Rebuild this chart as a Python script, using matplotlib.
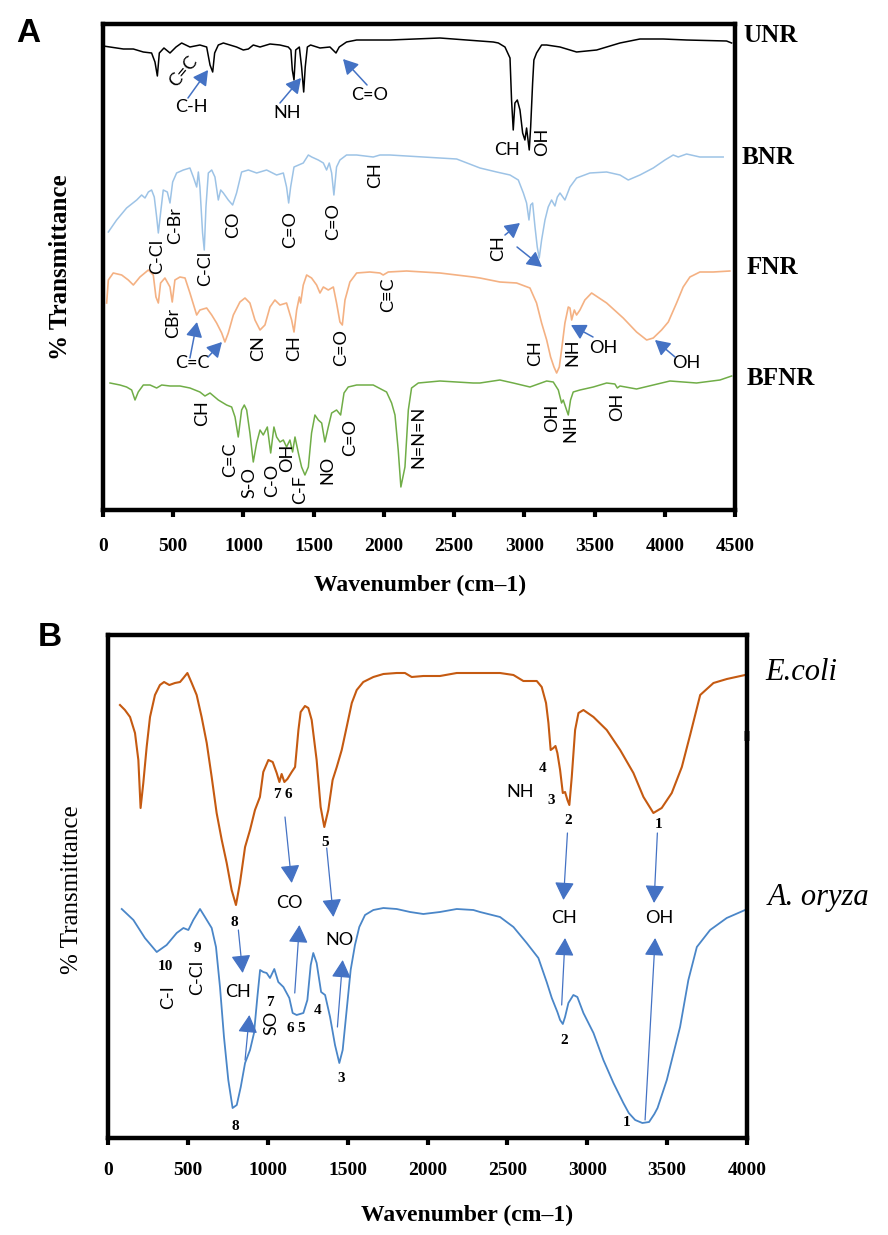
import matplotlib
matplotlib.use('Agg')
import matplotlib.pyplot as plt

# ---------------- Panel A data (wavenumber cm-1, transmittance a.u.) ----------------
unr_wn = [2,145,216,287,346,370,387,401,434,477,520,560,619,690,738,762,781,795,821,857,951,999,1035,1070,1118,
          1189,1260,1319,1338,1348,1360,1372,1398,1414,1429,1440,1455,1478,1545,1616,1659,1682,1734,1806,2043,2399,
          2684,2779,2815,2862,2898,2909,2921,2933,2950,2969,2988,3004,3016,3035,3045,3059,3068,3087,3123,3159,3254,
          3372,3515,3681,3823,3989,4155,4440,4476]
unr_t = [464,461,461,458,457,448,434,457,462,457,463,467,463,465,463,445,438,457,465,467,463,460,461,465,463,
         466,465,463,460,440,430,460,463,443,418,443,463,465,462,463,457,463,468,470,470,472,
         469,468,467,463,452,410,380,407,410,400,377,370,382,360,383,427,450,457,465,465,463,
         458,460,467,471,471,470,469,467]

bnr_wn = [38,97,168,240,275,299,323,346,365,382,394,410,429,458,477,496,524,572,619,643,667,679,690,709,721,733,
          750,774,797,821,838,857,892,923,951,987,1035,1094,1165,1236,1284,1307,1322,1336,1360,1426,1462,1486,1533,
          1569,1592,1611,1628,1644,1663,1687,1734,1806,1924,1972,2043,2280,2518,2684,2803,2898,2957,2993,3016,3033,
          3045,3059,3076,3092,3106,3123,3147,3170,3194,3218,3235,3254,3289,3325,3372,3467,3586,3681,3740,3823,3918,
          4001,4060,4096,4155,4250,4416]
bnr_t = [278,290,302,310,315,312,318,320,313,293,277,297,320,318,307,328,337,340,342,333,323,338,323,277,260,303,
         337,340,333,310,320,317,310,305,317,338,340,337,340,335,337,323,307,323,343,347,355,353,350,
         347,340,347,337,315,343,350,355,355,353,355,355,353,351,342,338,335,330,317,307,290,
         305,307,283,263,252,270,290,303,310,304,313,317,310,323,332,337,338,335,330,335,342,
         350,355,353,356,353,353]

fnr_wn = [26,38,73,133,180,216,263,323,358,377,394,410,441,477,493,512,548,584,619,667,690,738,774,809,845,868,892,
          928,975,1011,1046,1082,1118,1153,1189,1224,1260,1307,1343,1360,1379,1398,1407,1426,1450,1485,1521,1545,
          1569,1604,1640,1663,1687,1704,1723,1758,1806,1900,1972,1995,2031,2162,2399,2636,2684,2826,2945,3040,3087,
          3123,3159,3187,3211,3230,3249,3265,3289,3313,3325,3337,3356,3372,3396,3431,3479,3586,3704,3799,3871,3918,
          3977,4025,4084,4131,4179,4250,4345,4463]
fnr_t = [207,230,237,235,230,225,233,240,235,213,207,227,232,223,208,230,233,232,217,195,200,202,195,187,177,168,177,
         195,208,212,207,190,180,185,203,210,205,207,190,178,200,213,207,225,235,232,225,217,
         223,220,223,207,188,185,210,228,237,238,237,235,238,239,237,233,232,228,227,222,207,
         187,170,153,143,137,143,160,187,203,202,190,200,195,200,210,217,207,192,178,170,172,
         180,188,207,223,233,238,238,239]

bfnr_wn = [50,121,168,204,228,251,287,335,382,418,477,548,619,690,726,762,821,880,916,940,963,987,1006,1023,1046,
           1070,1094,1118,1141,1170,1194,1217,1236,1260,1284,1307,1331,1350,1367,1391,1414,1438,1462,1485,1509,1533,
           1557,1580,1604,1628,1663,1692,1716,1746,1806,1924,2019,2055,2079,2102,2121,2150,2174,2197,2245,2399,2636,
           2684,2826,2921,3040,3159,3206,3242,3265,3277,3296,3313,3329,3348,3396,3491,3586,3645,3662,3681,3799,3918,
           4037,4226,4393,4476]
bfnr_t = [127,125,123,120,110,118,125,125,122,125,124,124,122,118,114,117,110,105,103,93,73,100,105,100,77,
          48,67,80,75,83,57,83,73,68,70,63,70,58,73,57,43,35,43,77,95,90,
          87,68,83,97,100,95,117,123,125,125,118,107,95,60,23,43,100,122,127,129,127,
          127,130,127,123,129,128,120,107,110,102,95,110,118,120,123,127,126,122,124,121,125,
          129,127,130,134]

# ---------------- Panel B data ----------------
ecoli_wn = [75,106,138,169,190,204,221,242,263,294,325,351,384,419,451,472,497,524,555,586,618,649,680,712,743,774,
            801,826,858,889,920,951,972,1004,1031,1056,1073,1087,1104,1123,1150,1171,1192,1206,1233,1254,1275,1306,
            1331,1354,1379,1406,1432,1463,1494,1526,1557,1598,1661,1724,1807,1859,1901,1974,2078,2183,2329,2454,2538,
            2600,2684,2715,2742,2757,2771,2788,2801,2813,2830,2847,2861,2876,2888,2903,2924,2945,2976,3039,3122,3206,
            3289,3352,3414,3466,3529,3592,3644,3707,3790,3874,3988]
ecoli_t = [433,428,421,405,378,330,355,391,421,443,453,456,453,455,456,460,465,455,443,421,395,361,325,298,275,248,
           233,255,291,308,328,341,366,378,376,365,356,364,356,359,366,371,408,426,432,430,418,378,
           331,311,328,358,371,388,411,435,448,456,461,464,465,465,461,462,462,465,465,465,463,
           457,457,451,435,415,388,390,392,385,368,345,346,338,333,361,408,425,428,421,408,388,
           365,341,325,330,345,371,403,443,455,459,463]

aory_wn = [86,159,231,305,367,430,472,503,534,576,607,649,676,701,726,753,780,806,831,858,889,914,935,952,972,993,
           1014,1041,1066,1098,1135,1156,1181,1223,1248,1269,1285,1306,1334,1359,1390,1421,1448,1469,1494,1519,1546,
           1573,1609,1661,1724,1807,1891,1974,2078,2183,2287,2329,2454,2538,2621,2694,2746,2778,2813,2830,2847,2861,
           2882,2913,2938,2976,3039,3101,3164,3226,3260,3300,3345,3387,3420,3440,3498,3581,3633,3686,3769,3873,3988]
aory_t = [229,218,200,186,193,205,210,208,218,229,221,210,191,151,101,58,30,33,51,75,88,105,141,168,166,165,
          160,169,156,151,140,125,123,125,138,173,185,175,146,143,121,93,75,88,128,168,193,
          211,223,228,230,229,226,224,226,229,228,226,221,211,195,180,156,140,126,118,114,121,
          135,143,141,125,105,78,55,35,25,18,15,16,24,30,58,111,158,191,208,220,228]

# ---------------- annotations ----------------
labels_a = [("C=C", 570, 438, 50), ("C-H", 632, 403, 0), ("NH", 1310, 397, 0), ("C=O", 1901, 415, 0),
            ("CH", 2876, 360, 0), ("OH", 3126, 368, 90),
            ("C-Cl", 385, 254, 90), ("C-Br", 513, 284, 90), ("C-Cl", 726, 242, 90), ("CO", 926, 285, 90),
            ("C=O", 1331, 280, 90), ("C=O", 1638, 288, 90), ("CH", 1937, 335, 90), ("CH", 2812, 262, 90),
            ("CBr", 498, 187, 90), ("C=C", 634, 147, 0), ("CN", 1104, 162, 90), ("CH", 1360, 162, 90),
            ("C=O", 1695, 162, 90), ("C≡C", 2029, 215, 90), ("CH", 3076, 157, 90), ("NH", 3339, 158, 90),
            ("OH", 3560, 162, 0), ("OH", 4151, 147, 0),
            ("CH", 705, 97, 90), ("C=C", 904, 50, 90), ("S-O", 1040, 28, 90), ("C-O", 1203, 30, 90),
            ("OH", 1310, 52, 90), ("C-F", 1403, 20, 90), ("NO", 1595, 40, 90), ("C=O", 1759, 72, 90),
            ("N=N=N", 2243, 73, 90), ("OH", 3197, 92, 90), ("NH", 3325, 82, 90), ("OH", 3660, 103, 90)]
arrows_a = [((605, 412), (748, 440)), ((1260, 407), (1410, 432)), ((1880, 425), (1709, 451)),
            ((2862, 275), (2969, 287)), ((2948, 263), (3126, 243)),
            ((619, 152), (669, 188)), ((748, 153), (847, 168)),
            ((3489, 173), (3332, 185)), ((4073, 153), (3930, 170))]

labels_b = [("CO", 1135, 235, 0), ("CH", 816, 146, 0), ("NO", 1448, 198, 0), ("CH", 2857, 220, 0),
            ("OH", 3450, 220, 0), ("NH", 2579, 346, 0), ("C-I", 378, 141, 90), ("C-Cl", 559, 161, 90),
            ("SO", 1025, 115, 90)]
numbers_b = [("7", 1056, 343), ("6", 1129, 343), ("5", 1359, 296), ("4", 2719, 369), ("3", 2774, 338),
             ("2", 2878, 318), ("1", 3446, 313), ("8", 789, 215),
             ("10", 357, 171), ("9", 559, 189), ("7", 1014, 136), ("6", 1139, 109), ("5", 1212, 110),
             ("4", 1313, 127), ("3", 1457, 60), ("2", 2855, 98), ("1", 3249, 15), ("8", 795, 12)]
arrows_b = [((1108, 321), (1150, 255)), ((1369, 290), (1411, 221)), ((2876, 305), (2851, 238)),
            ((3439, 305), (3418, 235)), ((816, 208), (843, 165)), ((858, 78), (885, 123)),
            ((1169, 145), (1198, 213)), ((1436, 111), (1469, 178)), ((2840, 133), (2861, 200)),
            ((3362, 18), (3425, 200))]

ticks_a = [0, 500, 1000, 1500, 2000, 2500, 3000, 3500, 4000, 4500]
ticks_b = [0, 500, 1000, 1500, 2000, 2500, 3000, 3500, 4000]

SERIF = ['Liberation Serif', 'DejaVu Serif']
SANS = ['Lato', 'DejaVu Sans']
ARROW = '#4472C4'

fig = plt.figure(figsize=(8.88, 12.35), dpi=100)
W, H = 888.0, 1235.0

def frac(x, y):
    return x / W, 1 - y / H

def style_axes(ax, xmax, ymax, ticks, pad):
    ax.set_xlim(0, xmax)
    ax.set_ylim(0, ymax)
    ax.set_xticks(ticks)
    ax.set_xticklabels([str(t) for t in ticks], fontfamily=SERIF, fontweight='bold', fontsize=14)
    ax.set_yticks([])
    for s in ax.spines.values():
        s.set_linewidth(3.2)
        s.set_color('black')
    ax.tick_params(axis='x', direction='out', length=5, width=3, pad=pad)

# Panel A
axA = fig.add_axes([103 / W, 1 - 510 / H, (735 - 103) / W, (510 - 24) / H])
style_axes(axA, 4500, 486, ticks_a, 15)
axA.plot(unr_wn, unr_t, color='black', lw=1.1)
axA.plot(bnr_wn, bnr_t, color='#9DC3E6', lw=1.1)
axA.plot(fnr_wn, fnr_t, color='#F4B183', lw=1.2)
axA.plot(bfnr_wn, bfnr_t, color='#70AD47', lw=1.1)
for txt, x, y, r in labels_a:
    axA.text(x, y, txt, rotation=r, ha='center', va='center', fontsize=13, fontfamily=SANS, color='black')
for (tx, ty), (hx, hy) in arrows_a:
    axA.annotate('', xy=(hx, hy), xytext=(tx, ty),
                 arrowprops=dict(arrowstyle='-|>,head_length=0.45,head_width=0.25', color=ARROW, lw=1.1,
                                 mutation_scale=20, shrinkA=0, shrinkB=0))

# Panel B
axB = fig.add_axes([108 / W, 1 - 1138 / H, (747 - 108) / W, (1138 - 635) / H])
style_axes(axB, 4000, 503, ticks_b, 12)
axB.plot(ecoli_wn, ecoli_t, color='#C55A11', lw=1.5)
axB.plot(aory_wn, aory_t, color='#4A86C8', lw=1.3)
for txt, x, y, r in labels_b:
    axB.text(x, y, txt, rotation=r, ha='center', va='center', fontsize=13, fontfamily=SANS, color='black')
for txt, x, y in numbers_b:
    axB.text(x, y, txt, ha='center', va='center', fontsize=11, fontfamily=SERIF, fontweight='bold')
for (tx, ty), (hx, hy) in arrows_b:
    axB.annotate('', xy=(hx, hy), xytext=(tx, ty),
                 arrowprops=dict(arrowstyle='-|>,head_length=0.55,head_width=0.3', color=ARROW, lw=0.9,
                                 mutation_scale=20, shrinkA=0, shrinkB=0))
axB.plot([1, 1], [0.79, 0.81], transform=axB.transAxes, color='#777777', lw=4, clip_on=False, solid_capstyle='butt')

# Figure texts
fig.text(*frac(28, 33), 'A', fontsize=24, fontweight='bold', fontfamily=['Liberation Sans'], ha='center', va='center')
fig.text(*frac(50, 637), 'B', fontsize=24, fontweight='bold', fontfamily=['Liberation Sans'], ha='center', va='center')
fig.text(*frac(60, 267), '% Transmittance', rotation=90, fontsize=18, fontweight='bold', fontfamily=SERIF,
         ha='center', va='center')
fig.text(*frac(72, 890), '% Transmittance', rotation=90, fontsize=18, fontfamily=SERIF, ha='center', va='center')
fig.text(*frac(420, 585), 'Wavenumber (cm–1)', fontsize=17, fontweight='bold', fontfamily=SERIF,
         ha='center', va='center')
fig.text(*frac(467, 1215), 'Wavenumber (cm–1)', fontsize=17, fontweight='bold', fontfamily=SERIF,
         ha='center', va='center')
for name, x, y in [('UNR', 743, 35), ('BNR', 742, 158), ('FNR', 747, 268), ('BFNR', 747, 378)]:
    fig.text(*frac(x, y), name, fontsize=18, fontweight='bold', fontfamily=SERIF, ha='left', va='center')
fig.text(*frac(765, 672), 'E.coli', fontsize=22, fontstyle='italic', fontfamily=SERIF, ha='left', va='center')
fig.text(*frac(768, 898), 'A. oryza', fontsize=22, fontstyle='italic', fontfamily=SERIF, ha='left', va='center')

fig.savefig('out.png', dpi=100)
